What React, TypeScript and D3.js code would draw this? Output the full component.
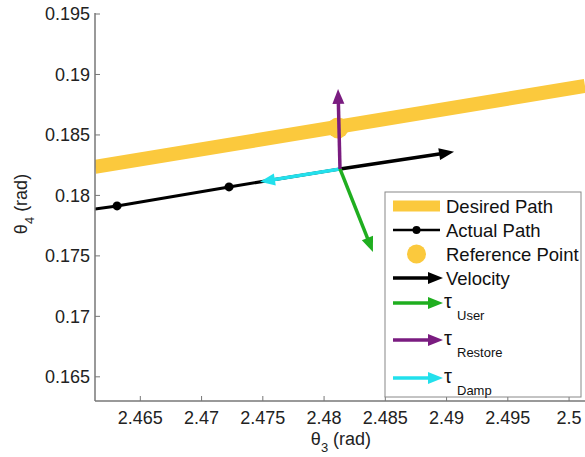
import React from "react";
import * as d3 from "d3";

const xDomain = [2.4613, 2.5013];
const yDomain = [0.163, 0.195];
const xTicks = [2.465, 2.47, 2.475, 2.48, 2.485, 2.49, 2.495, 2.5];
const yTicks = [0.165, 0.17, 0.175, 0.18, 0.185, 0.19, 0.195];

const desiredX = [2.4613, 2.5013];
const desiredY = [0.18236, 0.18905];

const refPoint = { x: 2.48114, y: 0.18558 };

const actualX = [2.4613, 2.4631, 2.47224, 2.4813];
const actualY = [0.17888, 0.17913, 0.1807, 0.18219];
const actualMarkers = [1, 2];

const origin = { x: 2.4813, y: 0.18219 };
const arrowNames = ["Velocity", "User", "Restore", "Damp"];
const arrowTipX = [2.49061, 2.48399, 2.48114, 2.47477];
const arrowTipY = [0.1836, 0.17533, 0.1888, 0.18112];
const arrowColors = ["#000000", "#1fae1f", "#7a1c80", "#22e0ec"];
const drawOrder = [0, 3, 1, 2];

const YELLOW = "#fbc93d";
const FONT = "'Liberation Sans', Arial, Helvetica, sans-serif";

function headPath(x1: number, y1: number, x2: number, y2: number, len = 15, w = 6) {
  const dx = x2 - x1, dy = y2 - y1;
  const L = Math.hypot(dx, dy);
  const ux = dx / L, uy = dy / L;
  const bx = x2 - ux * len, by = y2 - uy * len;
  const px = -uy, py = ux;
  return `M${x2},${y2}L${bx + px * w},${by + py * w}L${bx - px * w},${by - py * w}Z`;
}

function Arrow({ x1, y1, x2, y2, color }: { x1: number; y1: number; x2: number; y2: number; color: string }) {
  const dx = x2 - x1, dy = y2 - y1;
  const L = Math.hypot(dx, dy);
  const ex = x2 - (dx / L) * 10, ey = y2 - (dy / L) * 10;
  return (
    <g>
      <line x1={x1} y1={y1} x2={ex} y2={ey} stroke={color} strokeWidth={3.5} />
      <path d={headPath(x1, y1, x2, y2)} fill={color} />
    </g>
  );
}

export default function App() {
  const W = 585, H = 457;
  const x = d3.scaleLinear().domain(xDomain).range([95, 585]);
  const y = d3.scaleLinear().domain(yDomain).range([401, 14]);
  const line = d3.line<[number, number]>().x((d) => x(d[0])).y((d) => y(d[1]));
  const desired = desiredX.map((v, i) => [v, desiredY[i]] as [number, number]);
  const actual = actualX.map((v, i) => [v, actualY[i]] as [number, number]);
  const ox = x(origin.x), oy = y(origin.y);

  const lx0 = 393, lx1 = 440, tx = 446;
  const legendItems = [
    { kind: "desired", y: 206, label: "Desired Path" },
    { kind: "actual", y: 230, label: "Actual Path" },
    { kind: "ref", y: 254, label: "Reference Point" },
    { kind: "arrow", y: 278, label: "Velocity", color: arrowColors[0] },
    { kind: "tau", y: 303, label: "User", color: arrowColors[1] },
    { kind: "tau", y: 340, label: "Restore", color: arrowColors[2] },
    { kind: "tau", y: 378, label: "Damp", color: arrowColors[3] },
  ];

  return (
    <svg width={W} height={H} style={{ position: "absolute", left: 0, top: 0, background: "#fff" }} fontFamily={FONT}>
      <defs>
        <clipPath id="plotclip">
          <rect x={95} y={0} width={490} height={401} />
        </clipPath>
      </defs>
      <g clipPath="url(#plotclip)">
        <path d={line(desired) || ""} stroke={YELLOW} strokeWidth={14} fill="none" />
        <circle cx={x(refPoint.x)} cy={y(refPoint.y)} r={10.5} fill={YELLOW} />
        <path d={line(actual) || ""} stroke="#000" strokeWidth={3} fill="none" />
        {actualMarkers.map((i) => (
          <circle key={i} cx={x(actualX[i])} cy={y(actualY[i])} r={4.5} fill="#000" />
        ))}
        {drawOrder.map((i) => (
          <Arrow key={arrowNames[i]} x1={ox} y1={oy} x2={x(arrowTipX[i])} y2={y(arrowTipY[i])} color={arrowColors[i]} />
        ))}
      </g>

      {/* axes */}
      <line x1={95} y1={13} x2={95} y2={401} stroke="#777" strokeWidth={1.5} />
      <line x1={95} y1={401} x2={585} y2={401} stroke="#777" strokeWidth={1.5} />
      {yTicks.map((t) => (
        <g key={t}>
          <line x1={95} x2={100} y1={y(t)} y2={y(t)} stroke="#777" strokeWidth={1} />
          <text x={90} y={y(t)} dy="0.36em" textAnchor="end" fontSize={18} fill="#222">
            {d3.format("")(t)}
          </text>
        </g>
      ))}
      {xTicks.map((t) => (
        <g key={t}>
          <line x1={x(t)} x2={x(t)} y1={401} y2={396} stroke="#777" strokeWidth={1} />
          <text x={x(t)} y={424} textAnchor="middle" fontSize={18} fill="#222">
            {d3.format("")(t)}
          </text>
        </g>
      ))}

      {/* axis labels */}
      <text x={341} y={445} textAnchor="middle" fontSize={18} fill="#222">
        θ<tspan dy={7} fontSize={13}>3</tspan>
        <tspan dy={-7}> (rad)</tspan>
      </text>
      <text transform="translate(27,204) rotate(-90)" textAnchor="middle" fontSize={18} fill="#222">
        θ<tspan dy={7} fontSize={13}>4</tspan>
        <tspan dy={-7}> (rad)</tspan>
      </text>

      {/* legend */}
      <rect x={385} y={192} width={196} height={205} fill="#fff" stroke="#888" strokeWidth={1} />
      {legendItems.map((it) => {
        const mid = (lx0 + lx1) / 2;
        return (
          <g key={it.label}>
            {it.kind === "desired" && <line x1={lx0} x2={lx1} y1={it.y} y2={it.y} stroke={YELLOW} strokeWidth={11} />}
            {it.kind === "actual" && (
              <g>
                <line x1={lx0} x2={lx1} y1={it.y} y2={it.y} stroke="#000" strokeWidth={2.5} />
                <circle cx={mid} cy={it.y} r={4} fill="#000" />
              </g>
            )}
            {it.kind === "ref" && <circle cx={mid} cy={it.y} r={9.5} fill={YELLOW} />}
            {(it.kind === "arrow" || it.kind === "tau") && (
              <Arrow x1={lx0} y1={it.y} x2={443} y2={it.y} color={it.color as string} />
            )}
            {it.kind !== "tau" ? (
              <text x={tx} y={it.y + 7} fontSize={18.5} fill="#111">
                {it.label}
              </text>
            ) : (
              <text x={444} y={it.y + 5} fontSize={20} fill="#111">
                τ
                <tspan x={457} y={it.y + 17} fontSize={13}>
                  {it.label}
                </tspan>
              </text>
            )}
          </g>
        );
      })}
    </svg>
  );
}
